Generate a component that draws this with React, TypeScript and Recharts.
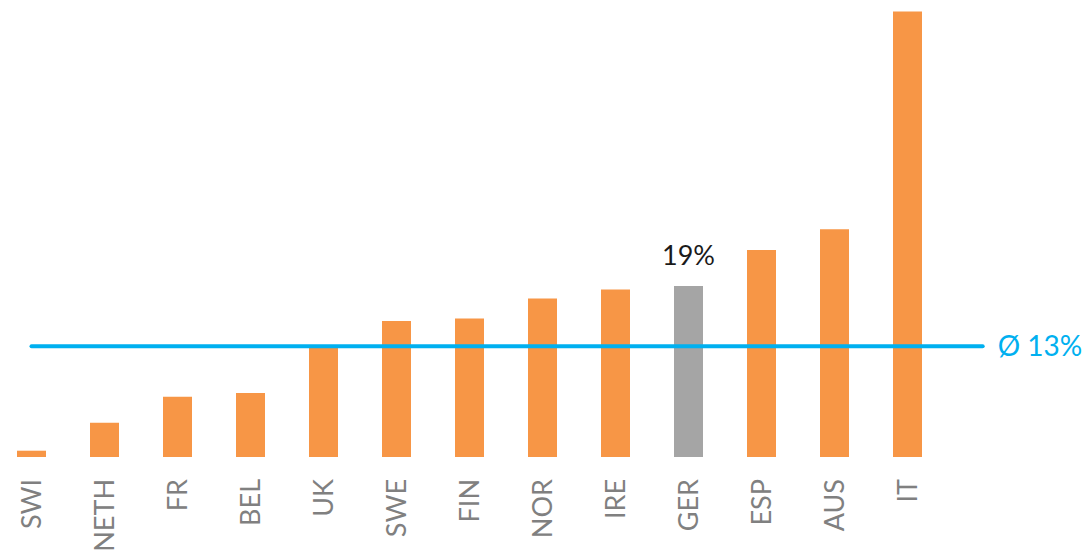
import { BarChart, Bar, XAxis, YAxis, Cell, ReferenceLine, LabelList } from 'recharts';

const countries = ['SWI', 'NETH', 'FR', 'BEL', 'UK', 'SWE', 'FIN', 'NOR', 'IRE', 'GER', 'ESP', 'AUS', 'IT'];
const shares = [0.7, 3.8, 6.7, 7.1, 12.1, 15.1, 15.4, 17.6, 18.6, 19, 23, 25.3, 49.5];
const highlight = 'GER';
const average = 12.3;
const averageLabel = 'Ø 13%';

const data = countries.map((name, i) => ({ name, value: shares[i] }));

const RotatedTick = (props: any) => {
    const { x, y, payload } = props;
    const ty = y + 22;
    return (
        <text x={x} y={ty} transform={`rotate(-90, ${x}, ${ty})`} textAnchor="end" dy="0.36em"
            fill='#808080' fontSize={27} fontFamily='Lato'>
            {payload.value}
        </text>
    );
};

const HighlightLabel = (props: any) => {
    const { x, y, width, value, index } = props;
    if (countries[index] !== highlight) return null;
    return (
        <text x={x + width / 2} y={y - 21} textAnchor="middle" fill='#1a1a1a' fontSize={27} fontFamily='Lato'>
            {`${value}%`}
        </text>
    );
};

// average line: starts at the first bar, runs one band past the last one
const AverageLine = (props: any) => {
    const { x1, x2, y1 } = props;
    const band = (x2 - x1) / countries.length;
    const start = x1 + band * 0.5;
    const end = x1 + band * (countries.length + 0.53);
    return (
        <g>
            <line x1={start} x2={end} y1={y1} y2={y1} stroke='#00B0F0' strokeWidth={4} strokeLinecap='round' />
            <text x={end + 15} y={y1} dy="0.36em" fill='#00B0F0' fontSize={28} fontFamily='Lato'>
                {averageLabel}
            </text>
        </g>
    );
};

const App = () => {
    return (
        <div style={{ position: 'absolute', left: -5, top: 0, fontFamily: 'Lato' }}>
            <BarChart width={1093} height={551} data={data} margin={{ top: 7, right: 144, bottom: 0, left: 0 }}>
                <XAxis dataKey="name" height={94} interval={0} tickLine={false} axisLine={false}
                    tickSize={0} tickMargin={0} tick={<RotatedTick />} />
                <YAxis hide domain={[0, 50]} />
                <Bar dataKey="value" barSize={29} isAnimationActive={false}>
                    {data.map((d) => (
                        <Cell key={d.name} fill={d.name === highlight ? '#A5A5A5' : '#F79646'} />
                    ))}
                    <LabelList dataKey="value" content={<HighlightLabel />} />
                </Bar>
                <ReferenceLine y={average} shape={<AverageLine />} />
            </BarChart>
        </div>
    );
};

export default App;
